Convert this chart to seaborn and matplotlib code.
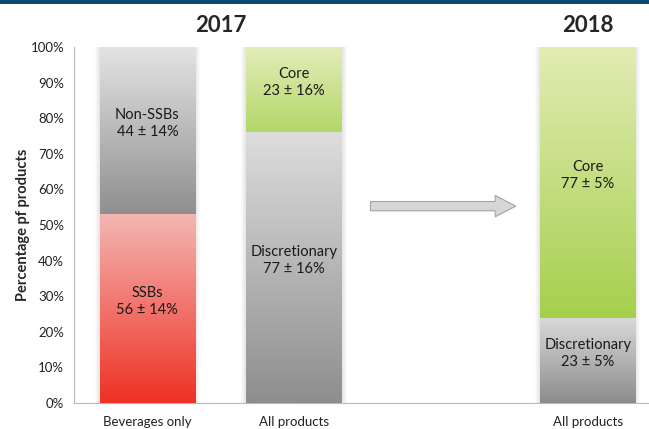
import numpy as np
import pandas as pd
import matplotlib
matplotlib.use("Agg")
import matplotlib.pyplot as plt
import seaborn as sns
from matplotlib.colors import to_rgb
from matplotlib.patches import Rectangle, FancyArrow

# ---- data ----
slots = ["bev2017", "all2017", "gap", "all2018"]
tick_labels = ["Beverages only", "All products", "", "All products"]
bottom_vals = [53, 76, 0, 24]      # SSBs / Discretionary
top_vals = [47, 24, 0, 76]         # Non-SSBs / Core
bottom_labels = ["SSBs\n56 ± 14%", "Discretionary\n77 ± 16%", "", "Discretionary\n23 ± 5%"]
top_labels = ["Non-SSBs\n44 ± 14%", "Core\n23 ± 16%", "", "Core\n77 ± 5%"]
year_titles = ["2017", "2018"]
yticks = list(range(0, 101, 10))

# gradient colours (bottom colour, top colour)
bottom_grad = [("#ee3124", "#f4b6b2"), ("#8e8e8e", "#dddddd"), ("#ffffff", "#ffffff"), ("#8c8c8c", "#dadada")]
top_grad = [("#8f8f8f", "#e4e4e4"), ("#b3d768", "#e3edb9"), ("#ffffff", "#ffffff"), ("#a6cf4d", "#e2ecb4")]

df = pd.DataFrame({
    "slot": slots,
    "total": [b + t for b, t in zip(bottom_vals, top_vals)],
    "bottom": bottom_vals,
})

sns.set_style("white")
plt.rcParams["font.family"] = ["Lato", "DejaVu Sans"]

fig = plt.figure(figsize=(6.49, 4.29), dpi=100)
ax = fig.add_axes([74 / 649, 1 - 403 / 429, 587 / 649, 356 / 429])

sns.barplot(data=df, x="slot", y="total", order=slots, width=0.65, color="#cccccc", ax=ax, zorder=2)
n_first = len(ax.patches)
sns.barplot(data=df, x="slot", y="bottom", order=slots, width=0.65, color="#cccccc", ax=ax, zorder=3)

patches = list(ax.patches)
top_patches = patches[:n_first]
bot_patches = patches[n_first:]

px = 1.0 / 146.75  # one pixel in x data units

# soft shadow around each full bar
for p in top_patches:
    x, w, h = p.get_x(), p.get_width(), p.get_height()
    if h <= 0:
        continue
    for k in range(1, 6):
        ax.add_patch(Rectangle((x - k * px, 0), w + 2 * k * px, h, facecolor="#000000",
                               alpha=0.018, edgecolor="none", zorder=1))


def grad_fill(patch, c_bot, c_top, z):
    x, y, w, h = patch.get_x(), patch.get_y(), patch.get_width(), patch.get_height()
    if h <= 0:
        patch.set_visible(False)
        return
    cb, ct = np.array(to_rgb(c_bot)), np.array(to_rgb(c_top))
    t = np.linspace(0, 1, 256)[:, None]
    img = (cb[None, :] * (1 - t) + ct[None, :] * t)[:, None, :]
    im = ax.imshow(img, extent=[x, x + w, y, y + h], origin="lower", aspect="auto",
                   zorder=z, interpolation="bilinear")
    im.set_clip_path(patch)
    patch.set_facecolor("none")
    patch.set_edgecolor("none")


# the first barplot gives full-height bars; the top segment spans bottom..total
for i, p in enumerate(top_patches):
    if p.get_height() <= 0:
        p.set_visible(False)
        continue
    p.set_y(bottom_vals[i])
    p.set_height(top_vals[i])
    grad_fill(p, top_grad[i][0], top_grad[i][1], 2)
for i, p in enumerate(bot_patches):
    grad_fill(p, bottom_grad[i][0], bottom_grad[i][1], 3)

# labels
for i in range(len(slots)):
    if bottom_labels[i]:
        ax.text(i, bottom_vals[i] / 2 + 2, bottom_labels[i], ha="center", va="center",
                fontsize=10.5, color="#1a1a1a", zorder=5, linespacing=1.3)
    if top_labels[i]:
        ax.text(i, bottom_vals[i] + top_vals[i] / 2 + 2, top_labels[i], ha="center", va="center",
                fontsize=10.5, color="#1a1a1a", zorder=5, linespacing=1.3)

# arrow between 2017 and 2018
ax.add_patch(FancyArrow(1.52, 55.3, 0.85, 0, width=2.6, head_width=6.0, head_length=0.14,
                        length_includes_head=False, facecolor="#d6d6d6", edgecolor="#a3a3a3",
                        linewidth=0.8, zorder=4))

ax.set_xlim(-0.5, 3.5)
ax.set_ylim(0, 100)
ax.set_yticks(yticks)
ax.set_yticklabels([f"{v}%" for v in yticks], fontsize=9.5, color="#222222")
ax.set_xticks(range(len(slots)))
ax.set_xticklabels(tick_labels, fontsize=9.5, color="#222222")
ax.set_xticks([0.5, 1.5, 2.5], minor=True)
ax.tick_params(axis="x", which="major", length=0, pad=9)
ax.tick_params(axis="x", which="minor", length=4, color="#bbbbbb", direction="out")
ax.tick_params(axis="y", which="major", length=4, color="#bbbbbb", direction="out", pad=3)
ax.set_xlabel("")
ax.set_ylabel("Percentage pf products", fontsize=10.5, fontweight="bold")
ax.yaxis.set_label_coords(-44 / 587, 0.5)
for s in ["top", "right"]:
    ax.spines[s].set_visible(False)
for s in ["left", "bottom"]:
    ax.spines[s].set_color("#bbbbbb")
    ax.spines[s].set_linewidth(0.8)

# year titles
ax.text(0.5, 106, year_titles[0], ha="center", va="center", fontsize=16, fontweight="bold",
        clip_on=False)
ax.text(3.0, 106, year_titles[1], ha="center", va="center", fontsize=16, fontweight="bold",
        clip_on=False)

# top blue band
fig.patches.append(Rectangle((0, 1 - 4 / 429), 1, 4 / 429, transform=fig.transFigure,
                             facecolor="#0b4a73", edgecolor="none", figure=fig))

fig.savefig("out.png", dpi=100)
